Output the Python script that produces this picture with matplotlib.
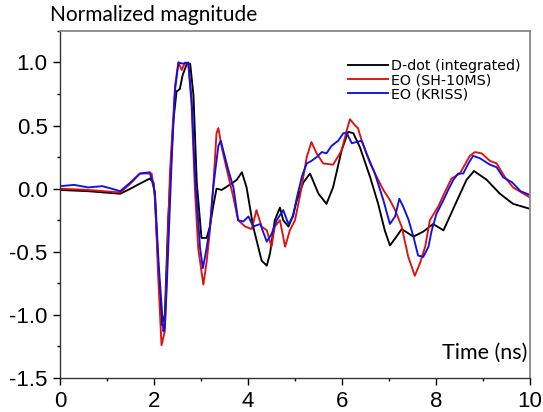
import numpy as np
import matplotlib.pyplot as plt
from matplotlib.ticker import MultipleLocator

# time axis (ns) and normalized waveforms
t_ddot = [0.0, 0.6, 1.28, 1.5, 1.70, 1.91, 1.99, 2.02, 2.09, 2.16, 2.23, 2.30, 2.41, 2.48,
          2.55, 2.61, 2.70, 2.77, 2.84, 2.91, 3.01, 3.12, 3.19, 3.26, 3.33, 3.44, 3.65, 3.76,
          3.87, 3.97, 4.11, 4.29, 4.40, 4.47, 4.57, 4.68, 4.75, 4.86, 4.95, 5.04, 5.18, 5.32,
          5.50, 5.67, 5.81, 5.99, 6.13, 6.24, 6.38, 6.60, 6.77, 6.91, 7.02, 7.16, 7.27, 7.52,
          7.73, 7.94, 8.16, 8.44, 8.65, 8.81, 9.08, 9.36, 9.64, 10.0]
y_ddot = [-0.01, -0.02, -0.04, 0.0, 0.04, 0.08, 0.05, -0.08, -0.6, -1.08, -1.00, -0.26, 0.53, 0.77,
          0.79, 0.90, 0.99, 0.99, 0.74, 0.05, -0.39, -0.39, -0.30, -0.14, 0.00, -0.01, 0.04, 0.07,
          0.13, 0.01, -0.30, -0.57, -0.61, -0.51, -0.25, -0.15, -0.25, -0.30, -0.22, -0.09, 0.05, 0.12,
          -0.04, -0.12, 0.01, 0.30, 0.45, 0.44, 0.33, 0.09, -0.12, -0.33, -0.45, -0.38, -0.32, -0.38,
          -0.34, -0.28, -0.33, -0.10, 0.07, 0.14, 0.07, -0.04, -0.12, -0.16]

t_sh = [0.0, 0.6, 1.28, 1.5, 1.70, 1.95, 2.02, 2.09, 2.16, 2.23, 2.34, 2.45, 2.52, 2.59, 2.66,
        2.73, 2.80, 2.87, 2.94, 3.05, 3.12, 3.19, 3.26, 3.33, 3.37, 3.44, 3.55, 3.69, 3.79, 3.94,
        4.08, 4.18, 4.29, 4.40, 4.50, 4.57, 4.68, 4.79, 4.89, 5.0, 5.11, 5.25, 5.35, 5.46, 5.60,
        5.81, 5.99, 6.10, 6.17, 6.28, 6.34, 6.42, 6.60, 6.77, 6.88, 7.02, 7.13, 7.27, 7.41, 7.55,
        7.66, 7.77, 7.87, 8.05, 8.16, 8.33, 8.51, 8.72, 8.83, 8.97, 9.15, 9.29, 9.47, 9.64, 10.0]
y_sh = [0.0, -0.01, -0.03, 0.04, 0.12, 0.12, -0.05, -0.7, -1.24, -1.13, 0.13, 0.82, 1.0, 0.94, 1.0,
        0.99, 0.66, 0.0, -0.47, -0.76, -0.58, -0.33, 0.01, 0.44, 0.48, 0.33, 0.15, -0.07, -0.25, -0.30,
        -0.32, -0.17, -0.30, -0.33, -0.46, -0.30, -0.25, -0.46, -0.33, -0.25, -0.05, 0.25, 0.37, 0.28, 0.20,
        0.19, 0.30, 0.46, 0.55, 0.50, 0.48, 0.38, 0.20, 0.07, -0.01, -0.09, -0.17, -0.30, -0.54, -0.69,
        -0.59, -0.46, -0.25, -0.14, -0.05, 0.08, 0.12, 0.26, 0.29, 0.28, 0.22, 0.20, 0.09, 0.01, -0.07]

t_kriss = [0.0, 0.3, 0.6, 0.9, 1.1, 1.28, 1.5, 1.70, 1.91, 2.02, 2.10, 2.20, 2.23, 2.27, 2.38,
           2.45, 2.52, 2.62, 2.73, 2.80, 2.87, 2.98, 3.04, 3.12, 3.19, 3.26, 3.37, 3.42, 3.51,
           3.58, 3.69, 3.79, 3.90, 4.01, 4.11, 4.26, 4.40, 4.50, 4.61, 4.75, 4.86, 4.96, 5.04,
           5.15, 5.25, 5.35, 5.46, 5.57, 5.67, 5.78, 5.92, 6.03, 6.10, 6.21, 6.31, 6.42, 6.52,
           6.70, 6.88, 7.02, 7.13, 7.22, 7.30, 7.41, 7.52, 7.62, 7.73, 7.84, 7.91, 8.01, 8.16,
           8.26, 8.37, 8.47, 8.58, 8.69, 8.79, 8.94, 9.15, 9.29, 9.43, 9.62, 9.80, 10.0]
y_kriss = [0.02, 0.03, 0.01, 0.02, 0.0, -0.02, 0.05, 0.12, 0.13, -0.03, -0.6, -1.13, -1.10, -0.79, 0.26,
           0.79, 1.0, 0.99, 1.0, 0.71, 0.13, -0.47, -0.63, -0.47, -0.30, 0.01, 0.34, 0.38, 0.25,
           0.15, 0.01, -0.25, -0.26, -0.22, -0.30, -0.28, -0.42, -0.36, -0.25, -0.17, -0.28, -0.22, -0.07,
           0.10, 0.20, 0.22, 0.25, 0.29, 0.28, 0.34, 0.38, 0.44, 0.44, 0.36, 0.37, 0.38, 0.28,
           0.12, -0.09, -0.28, -0.22, -0.08, -0.14, -0.24, -0.38, -0.53, -0.54, -0.46, -0.33, -0.20, -0.09,
           -0.01, 0.07, 0.12, 0.12, 0.20, 0.26, 0.24, 0.19, 0.17, 0.09, 0.05, -0.02, -0.05]

fig = plt.figure(figsize=(5.43, 4.12), dpi=100)
ax = fig.add_axes([0.1105, 0.0825, 0.8655, 0.8425])

ax.plot(t_ddot, y_ddot, color='black', lw=1.35, label='D-dot (integrated)')
ax.plot(t_sh, y_sh, color='#e01010', lw=1.35, label='EO (SH-10MS)')
ax.plot(t_kriss, y_kriss, color='#1010e0', lw=1.35, label='EO (KRISS)')

ax.set_xlim(0, 10)
ax.set_ylim(-1.5, 1.25)
ax.xaxis.set_major_locator(MultipleLocator(2))
ax.xaxis.set_minor_locator(MultipleLocator(1))
ax.yaxis.set_minor_locator(MultipleLocator(0.25))
ax.set_yticks([-1.5, -1.0, -0.5, 0.0, 0.5, 1.0])
ax.set_yticklabels(['-1.5', '-1.0', '-0.5', '0.0', '0.5', '1.0'])
ax.tick_params(which='major', direction='out', length=5, width=1, labelsize=16, pad=4)
ax.tick_params(which='minor', direction='out', length=2.5, width=1)
ax.tick_params(top=False, right=False, which='both')
for lbl in ax.get_xticklabels() + ax.get_yticklabels():
    lbl.set_fontfamily('Liberation Sans')

for s in ['left', 'bottom']:
    ax.spines[s].set_color('#333333')
    ax.spines[s].set_linewidth(1.0)
for s in ['top', 'right']:
    ax.spines[s].set_color('#888888')
    ax.spines[s].set_linewidth(1.3)

leg = ax.legend(loc='upper left', bbox_to_anchor=(0.6128, 0.918), frameon=False,
                borderaxespad=0, borderpad=0,
                handlelength=2.8, handletextpad=0.2, labelspacing=0.0,
                prop={'family': 'DejaVu Sans', 'size': 10.3})

fig.text(50 / 543, 1 - 5 / 412, 'Normalized magnitude', ha='left', va='top',
         fontsize=15, family='Lato')
ax.text(0.995, 0.045, 'Time (ns)', transform=ax.transAxes, ha='right', va='bottom',
        fontsize=15.5, family='Lato')

fig.savefig('out.png', dpi=100)
